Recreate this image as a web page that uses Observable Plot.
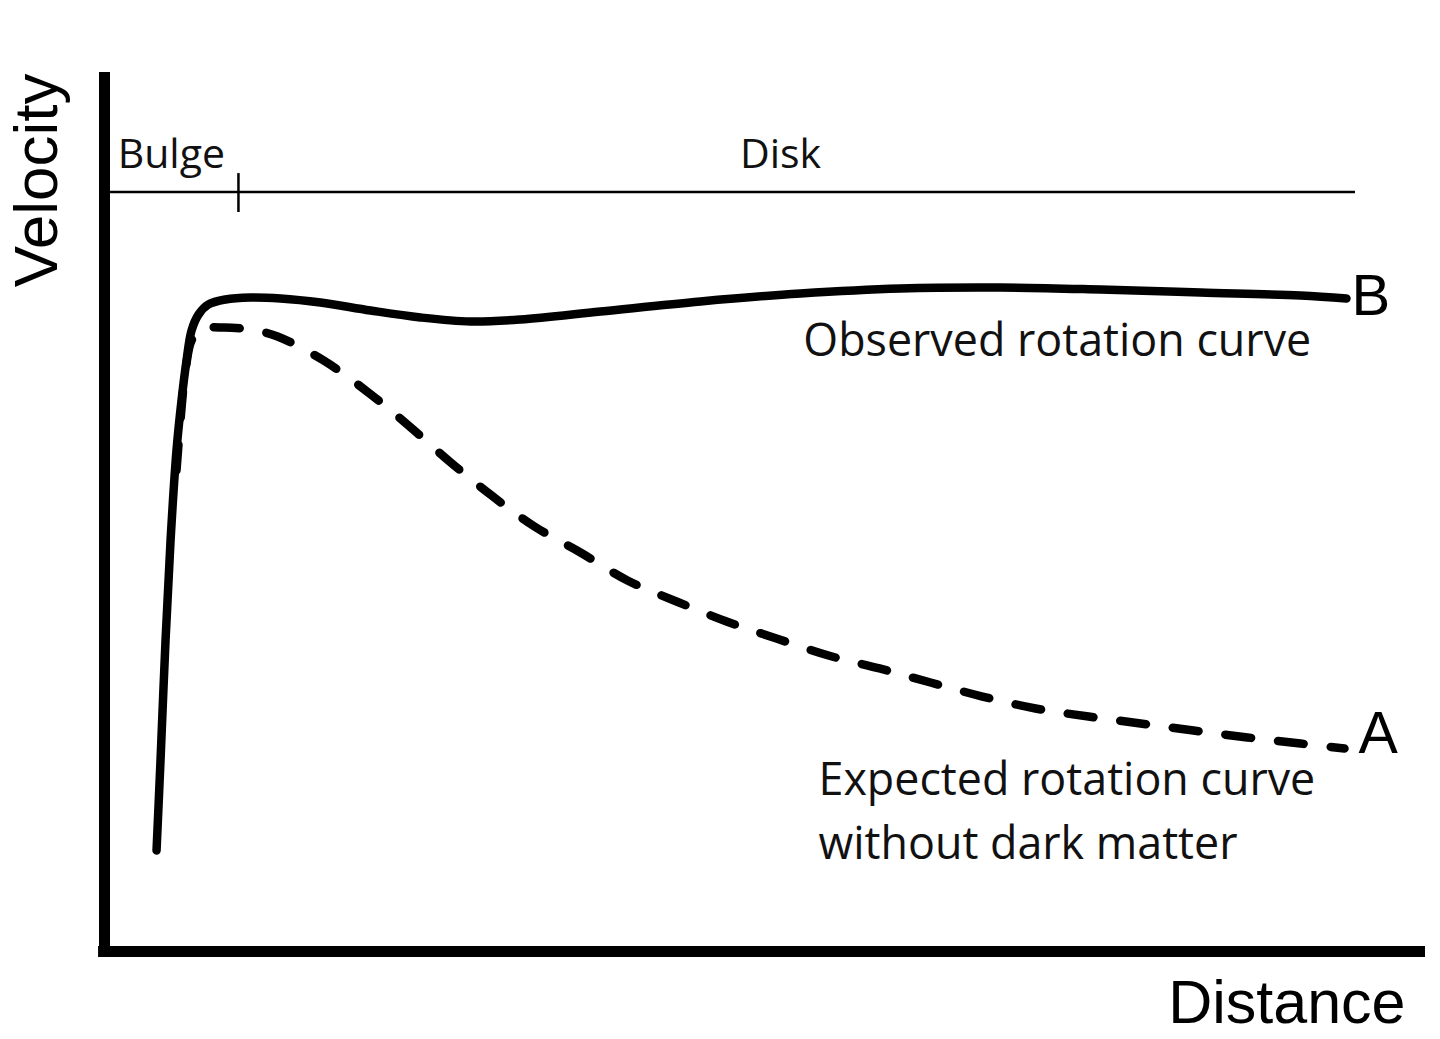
<!DOCTYPE html>
<html><head><meta charset="utf-8">
<script src="https://cdn.jsdelivr.net/npm/d3@7"></script>
<script src="https://cdn.jsdelivr.net/npm/@observablehq/plot@0.6"></script>
<style>html,body{margin:0;padding:0;background:#fff;} svg{display:block}</style>
</head><body><div id="chart"></div>
<script>
// Observed rotation curve (solid, B)
const observedDistance = [3.94,4.24,4.62,5.00,5.45,5.83,6.21,6.59,7.12,7.87,9.16,11.05,13.32,16.35,20.14,23.92,27.71,31.49,37.55,45.12,52.69,60.26,67.83,75.40,82.97,90.54,94.02];
const observedVelocity = [11.49,21.73,35.38,46.76,57.0,62.68,67.24,70.65,72.47,73.61,74.18,74.40,74.29,73.83,72.92,72.13,71.67,71.90,72.81,73.95,74.86,75.43,75.54,75.31,74.97,74.63,74.29];
// Expected rotation curve without dark matter (dashed, A)
const expectedDistance = [5.45,5.75,6.13,6.59,7.27,9.08,11.43,13.10,16.58,19.98,23.01,26.12,29.30,32.55,36.03,39.59,43.30,47.09,50.87,54.81,58.67,62.53,66.46,70.48,74.49,78.43,82.44,86.52,90.54,93.87];
const expectedVelocity = [54.72,60.41,66.10,69.51,70.76,70.99,70.65,69.97,67.24,63.59,59.84,55.75,51.88,48.35,45.39,42.21,39.82,37.54,35.61,33.67,32.20,30.60,29.01,27.65,26.73,25.94,25.14,24.35,23.66,23.09];
// Region bar
const regionNames = ["Bulge", "Disk"];
const regionLabelDistance = [1.0, 48.1];
const regionLevel = 86.4;
const regionLabelLevel = 89.08;
const regionEnd = 94.7;
const bulgeEdge = 10.14;
const bulgeTick = [84.07, 88.5];
// Curve annotations
const curveNames = ["Observed rotation curve", "Expected rotation curve", "without dark matter"];
const curveLabelDistance = [52.9, 54.05, 54.05];
const curveLabelVelocity = [67.8, 17.75, 10.58];
const curveEndNames = ["B", "A"];
const axisTitles = ["Velocity", "Distance"];

const observed = observedDistance.map((d, i) => ({d, v: observedVelocity[i]}));
const expected = expectedDistance.map((d, i) => ({d, v: expectedVelocity[i]}));
const regions = regionNames.map((name, i) => ({name, d: regionLabelDistance[i], v: regionLabelLevel}));
const curveLabels = curveNames.map((name, i) => ({name, d: curveLabelDistance[i], v: curveLabelVelocity[i]}));
const ends = [
  {name: curveEndNames[0], ...observed[observed.length - 1]},
  {name: curveEndNames[1], ...expected[expected.length - 1]}
];

const calibri = "'Open Sans', Lato, sans-serif";
const arial = "'Liberation Sans', Arial, sans-serif";

const chart = Plot.plot({
  width: 1440,
  height: 1039,
  marginLeft: 104,
  marginRight: 15,
  marginTop: 72,
  marginBottom: 88,
  x: {domain: [0, 100], axis: null},
  y: {domain: [0, 100], axis: null},
  style: {background: "#fff", color: "#000"},
  marks: [
    // region bar
    Plot.ruleY([regionLevel], {x1: 0, x2: regionEnd, stroke: "#000", strokeWidth: 2.5}),
    Plot.ruleX([bulgeEdge], {y1: bulgeTick[0], y2: bulgeTick[1], stroke: "#000", strokeWidth: 2.5}),
    Plot.text(regions, {x: "d", y: "v", text: "name", textAnchor: "start", lineAnchor: "bottom", fontSize: 41, fontFamily: calibri, fill: "#111"}),
    // curves
    Plot.line(expected, {x: "d", y: "v", curve: "catmull-rom", stroke: "#000", strokeWidth: 8.5, strokeDasharray: "26,27"}),
    Plot.line(observed, {x: "d", y: "v", curve: "catmull-rom", stroke: "#000", strokeWidth: 8.5, strokeLinecap: "round"}),
    Plot.text(curveLabels, {x: "d", y: "v", text: "name", textAnchor: "start", lineAnchor: "bottom", fontSize: 44.8, fontFamily: calibri, fill: "#111"}),
    Plot.text(ends.slice(0,1), {x: "d", y: "v", text: "name", textAnchor: "start", lineAnchor: "bottom", dx: 5, dy: 17, fontSize: 58, fontFamily: arial, fill: "#000"}),
    Plot.text(ends.slice(1), {x: "d", y: "v", text: "name", textAnchor: "start", lineAnchor: "bottom", dx: 14, dy: 4, fontSize: 59, fontFamily: arial, fill: "#000"}),
    // axes
    Plot.ruleX([0], {y1: -0.68, y2: 100, stroke: "#000", strokeWidth: 11}),
    Plot.ruleY([0], {x1: -0.45, x2: 100, stroke: "#000", strokeWidth: 11}),
    Plot.text([axisTitles[0]], {frameAnchor: "top-left", rotate: -90, textAnchor: "end", lineAnchor: "bottom", dx: -48, dy: 1, fontSize: 62, fontFamily: arial, fill: "#000"}),
    Plot.text([axisTitles[1]], {frameAnchor: "bottom-right", textAnchor: "end", lineAnchor: "bottom", dx: -20, dy: 71, fontSize: 61, fontFamily: arial, fill: "#000"})
  ]
});
document.getElementById("chart").appendChild(chart);
</script>
</body></html>
